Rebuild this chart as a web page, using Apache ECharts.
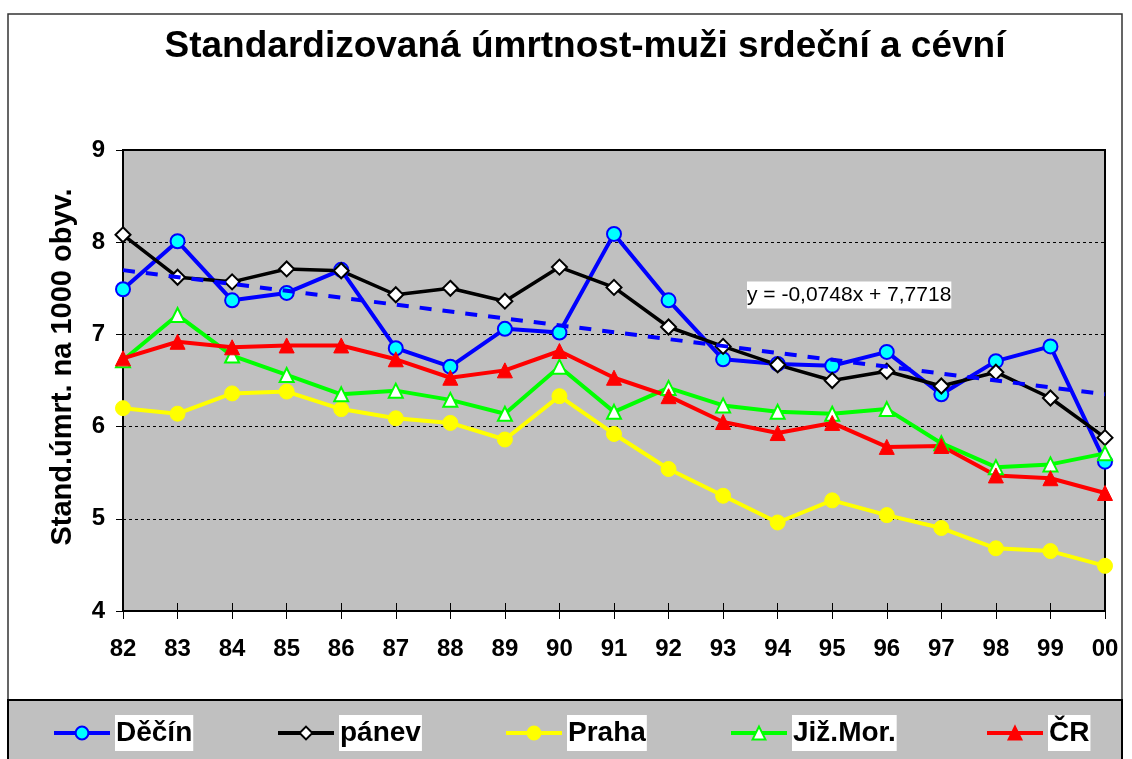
<!DOCTYPE html>
<html>
<head>
<meta charset="utf-8">
<script src="https://cdn.jsdelivr.net/npm/echarts@6/dist/echarts.min.js"></script>
<style>
  html, body { margin: 0; padding: 0; background: #fff; }
  #chart { width: 1132px; height: 759px; }
</style>
</head>
<body>
<div id="chart"></div>
<script>
// Years on the x axis
const years = ['82', '83', '84', '85', '86', '87', '88', '89', '90', '91', '92', '93', '94', '95', '96', '97', '98', '99', '00']

// Series values
const decin = [7.49, 8.01, 7.37, 7.45, 7.70, 6.85, 6.65, 7.06, 7.02, 8.09, 7.37, 6.73, 6.68, 6.66, 6.81, 6.35, 6.71, 6.87, 5.62]
const panev = [8.08, 7.62, 7.57, 7.71, 7.69, 7.43, 7.50, 7.36, 7.73, 7.51, 7.08, 6.87, 6.67, 6.50, 6.60, 6.44, 6.59, 6.31, 5.88]
const praha = [6.20, 6.14, 6.36, 6.38, 6.19, 6.09, 6.04, 5.86, 6.33, 5.92, 5.54, 5.25, 4.96, 5.20, 5.04, 4.90, 4.68, 4.65, 4.49]
const jizMor = [6.72, 7.21, 6.77, 6.56, 6.35, 6.39, 6.29, 6.14, 6.65, 6.16, 6.42, 6.23, 6.16, 6.14, 6.19, 5.82, 5.56, 5.59, 5.71]
const cr = [6.74, 6.92, 6.86, 6.88, 6.88, 6.73, 6.53, 6.61, 6.82, 6.53, 6.33, 6.05, 5.93, 6.04, 5.78, 5.79, 5.47, 5.44, 5.28]

// Linear trend of Děčín as printed on the chart
const trendSlope = -0.0748
const trendIntercept = 7.7718
const trendLabel = 'y = -0,0748x + 7,7718'

const font = 'Arial, "Liberation Sans", sans-serif'

const chart = echarts.init(document.getElementById('chart'))

// one legend per item so each can sit where Excel put it
const legendSpots = [
  { name: 'Děčín', left: 52 },
  { name: 'pánev', left: 276 },
  { name: 'Praha', left: 504 },
  { name: 'Již.Mor.', left: 729 },
  { name: 'ČR', left: 985 }
]

const legends = legendSpots.map((l) => ({
  data: [l.name],
  left: l.left,
  top: 715,
  padding: 0,
  itemWidth: 56,
  itemHeight: 16,
  itemGap: 0,
  z: 10,
  selectedMode: false,
  lineStyle: { width: 4 },
  textStyle: {
    fontFamily: font,
    fontWeight: 'bold',
    fontSize: 28,
    color: '#000',
    backgroundColor: '#fff',
    lineHeight: 36,
    padding: [0, 1]
  }
}))

const lastIdx = years.length - 1

const option = {
  animation: false,
  backgroundColor: '#fff',
  title: {
    text: 'Standardizovaná úmrtnost-muži srdeční a cévní',
    left: 580,
    textAlign: 'center',
    top: 23,
    textStyle: {
      fontFamily: font,
      fontWeight: 'bold',
      fontSize: 37,
      color: '#000'
    }
  },
  legend: legends,
  graphic: [
    {
      type: 'rect',
      z: -10,
      shape: { x: 8, y: 14, width: 1114, height: 760 },
      style: { fill: '#fff', stroke: '#333', lineWidth: 1.5 }
    },
    {
      type: 'rect',
      z: 1,
      shape: { x: 8, y: 700, width: 1114, height: 80 },
      style: { fill: '#C0C0C0', stroke: '#000', lineWidth: 2 }
    },
    {
      type: 'text',
      x: 63,
      y: 367,
      rotation: Math.PI / 2,
      style: {
        text: 'Stand.úmrt. na 1000 obyv.',
        fontFamily: font,
        fontWeight: 'bold',
        fontSize: 29,
        fill: '#000',
        align: 'center',
        verticalAlign: 'middle'
      }
    },
    {
      type: 'text',
      x: 747,
      y: 295,
      z: 20,
      style: {
        text: trendLabel,
        fontFamily: font,
        fontSize: 21,
        fill: '#000',
        backgroundColor: '#fff',
        lineHeight: 27,
        verticalAlign: 'middle'
      }
    }
  ],
  grid: {
    left: 123,
    right: 27,
    top: 150,
    bottom: 148,
    show: true,
    backgroundColor: '#C0C0C0',
    borderColor: '#000',
    borderWidth: 2
  },
  xAxis: [
    {
      type: 'category',
      data: years,
      boundaryGap: false,
      axisLine: { lineStyle: { color: '#000', width: 2 } },
      axisTick: { show: true, length: 8, lineStyle: { color: '#000', width: 1 } },
      axisLabel: {
        fontFamily: font,
        fontWeight: 'bold',
        fontSize: 24,
        color: '#000',
        margin: 26
      },
      splitLine: { show: false }
    },
    {
      type: 'category',
      data: years,
      position: 'bottom',
      boundaryGap: false,
      axisLine: { show: false },
      axisTick: { show: true, inside: true, length: 8, lineStyle: { color: '#000', width: 1 } },
      axisLabel: { show: false },
      splitLine: { show: false }
    }
  ],
  yAxis: {
    type: 'value',
    min: 4,
    max: 9,
    interval: 1,
    axisLine: { show: true, lineStyle: { color: '#000', width: 2 } },
    axisTick: { show: true, length: 7, lineStyle: { color: '#000', width: 1 } },
    axisLabel: {
      fontFamily: font,
      fontWeight: 'bold',
      fontSize: 24,
      color: '#000',
      margin: 18
    },
    splitLine: { show: true, lineStyle: { color: '#000', type: [3, 3], width: 1 } }
  },
  series: [
    {
      name: 'Děčín',
      type: 'line',
      data: decin,
      symbol: 'circle',
      symbolSize: 14,
      lineStyle: { color: '#0000FF', width: 4 },
      itemStyle: { color: '#00FFFF', borderColor: '#0000FF', borderWidth: 2 },
      markLine: {
        silent: true,
        symbol: 'none',
        label: { show: false },
        lineStyle: { color: '#0000FF', width: 4, type: [12, 11] },
        data: [[
          { coord: [0, trendIntercept + trendSlope * 1] },
          { coord: [lastIdx, trendIntercept + trendSlope * (lastIdx + 1)] }
        ]]
      }
    },
    {
      name: 'pánev',
      type: 'line',
      data: panev,
      symbol: 'diamond',
      symbolSize: 15,
      lineStyle: { color: '#000', width: 3.5 },
      itemStyle: { color: '#fff', borderColor: '#000', borderWidth: 2 }
    },
    {
      name: 'Praha',
      type: 'line',
      data: praha,
      symbol: 'circle',
      symbolSize: 15,
      lineStyle: { color: '#FFFF00', width: 4 },
      itemStyle: { color: '#FFFF00', borderColor: '#FFFF00', borderWidth: 1 }
    },
    {
      name: 'Již.Mor.',
      type: 'line',
      data: jizMor,
      symbol: 'triangle',
      symbolSize: 14,
      lineStyle: { color: '#00FF00', width: 4 },
      itemStyle: { color: '#fff', borderColor: '#00FF00', borderWidth: 2 }
    },
    {
      name: 'ČR',
      type: 'line',
      data: cr,
      symbol: 'triangle',
      symbolSize: 15,
      lineStyle: { color: '#FF0000', width: 4 },
      itemStyle: { color: '#FF0000', borderColor: '#FF0000', borderWidth: 1 }
    }
  ]
}

chart.setOption(option)
</script>
</body>
</html>
